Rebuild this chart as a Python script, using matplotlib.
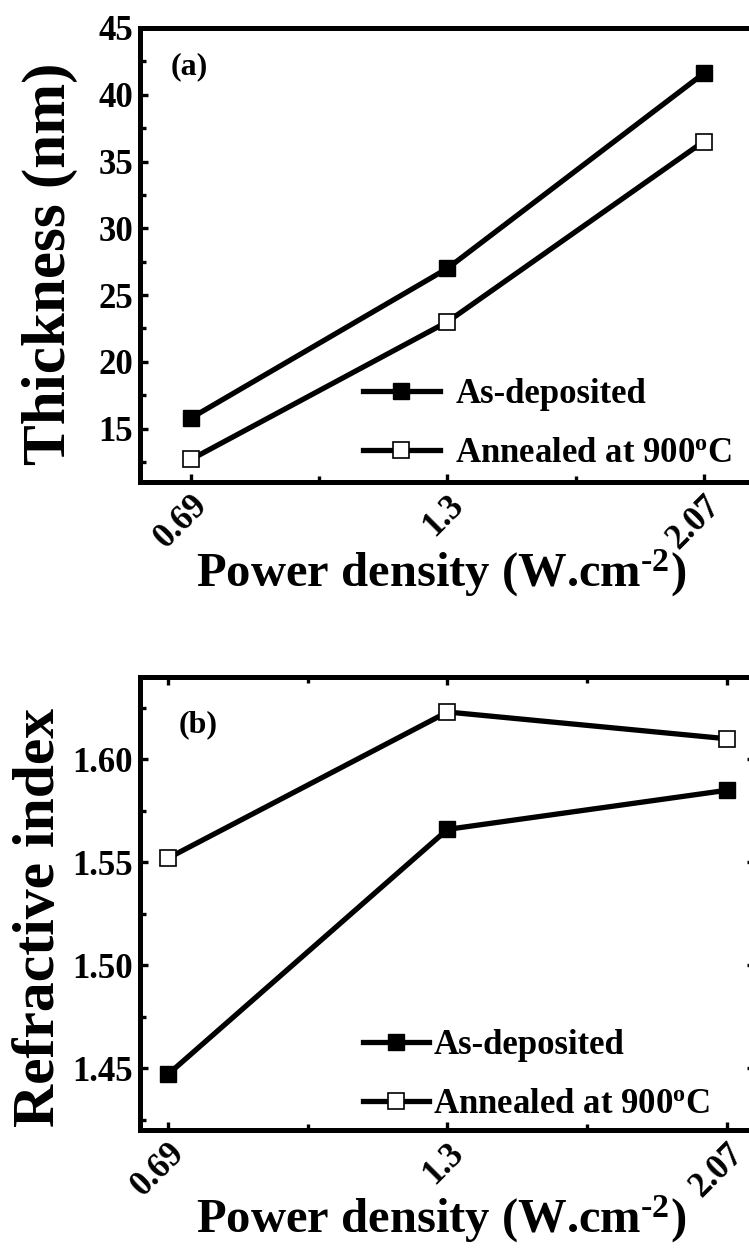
import matplotlib
matplotlib.use("Agg")
import matplotlib.pyplot as plt
from matplotlib.ticker import MultipleLocator, FixedLocator, FormatStrFormatter

# ---- data ----
power_labels = ["0.69", "1.3", "2.07"]
thick_as_dep = [15.8, 27.0, 41.6]
thick_annealed = [12.7, 23.0, 36.5]
n_as_dep = [1.447, 1.566, 1.585]
n_annealed = [1.552, 1.623, 1.610]
series_labels = ["As-deposited", r"Annealed at 900$^{\mathbf{o}}$C"]
ylabel_a = "Thickness (nm)"
ylabel_b = "Refractive index"
xlabel = r"Power density (W.cm$^{\text{-2}}$)"

plt.rcParams["font.family"] = ["Liberation Serif", "DejaVu Serif"]
plt.rcParams["font.weight"] = "bold"
plt.rcParams["mathtext.fontset"] = "custom"
plt.rcParams["mathtext.rm"] = "Liberation Serif:bold"
plt.rcParams["mathtext.bf"] = "Liberation Serif:bold"
plt.rcParams["mathtext.it"] = "Liberation Serif:bold"
plt.rcParams["mathtext.default"] = "bf"

W, H = 749, 1250
fig = plt.figure(figsize=(W / 100, H / 100), dpi=100)
fig.patch.set_facecolor("white")

def axes_px(left, top, right, bottom):
    return fig.add_axes([left / W, 1 - bottom / H, (right - left) / W, (bottom - top) / H])

ax1 = axes_px(140, 28, 755, 482)
ax2 = axes_px(140, 677, 755, 1130)

xs = list(range(len(power_labels)))

line_kw = dict(color="black", lw=3.8, markersize=12, marker="s")
TICK_FS = 25

def style(ax, top_right):
    for s in ax.spines.values():
        s.set_linewidth(3.6)
    ax.set_xticks(xs)
    ax.set_xticklabels(power_labels, rotation=45, ha="right", va="top",
                       rotation_mode="anchor", fontsize=TICK_FS, fontweight="bold")
    ax.xaxis.set_minor_locator(FixedLocator([x + 0.5 for x in xs[:-1]] + [xs[0] - 0.5]))
    ax.tick_params(which="both", direction="in", width=2.4,
                   top=top_right, right=top_right, labelsize=TICK_FS, pad=5)
    ax.tick_params(which="major", length=6)
    ax.tick_params(which="minor", length=4)
    for t in ax.get_yticklabels():
        t.set_fontweight("bold")

# ---- panel (a) ----
ax1.plot(xs, thick_as_dep, markerfacecolor="black", markeredgecolor="black",
         label=series_labels[0], **line_kw)
ax1.plot(xs, thick_annealed, markerfacecolor="white", markeredgecolor="black",
         markeredgewidth=1.2, label=series_labels[1], **line_kw)
ax1.set_xlim(-0.2, 2.2)
ax1.set_ylim(11, 45)
ax1.yaxis.set_major_locator(MultipleLocator(5))
ax1.yaxis.set_minor_locator(MultipleLocator(2.5))
style(ax1, False)
ax1.set_ylabel(ylabel_a, fontsize=44, fontweight="bold")
ax1.yaxis.set_label_coords(-0.1, 0.48)
ax1.set_xlabel(xlabel, fontsize=35, fontweight="bold")
ax1.xaxis.set_label_coords(0.49, -0.145)
ax1.text(0.049, 0.914, "(a)", transform=ax1.transAxes, fontsize=23,
         fontweight="bold", va="center", ha="left")
ax1.legend(loc="center left", bbox_to_anchor=(0.363, 0.128), frameon=False,
           prop={"size": 25, "weight": "bold"}, handlelength=2.2,
           handletextpad=0.45, labelspacing=0.75, borderpad=0, borderaxespad=0)

# ---- panel (b) ----
ax2.plot(xs, n_as_dep, markerfacecolor="black", markeredgecolor="black",
         label=series_labels[0], **line_kw)
ax2.plot(xs, n_annealed, markerfacecolor="white", markeredgecolor="black",
         markeredgewidth=1.2, label=series_labels[1], **line_kw)
ax2.set_xlim(-0.1, 2.1)
ax2.set_ylim(1.42, 1.64)
ax2.yaxis.set_major_locator(MultipleLocator(0.05))
ax2.yaxis.set_minor_locator(MultipleLocator(0.025))
ax2.yaxis.set_major_formatter(FormatStrFormatter("%.2f"))
style(ax2, True)
ax2.set_ylabel(ylabel_b, fontsize=43, fontweight="bold")
ax2.yaxis.set_label_coords(-0.118, 0.47)
ax2.set_xlabel(xlabel, fontsize=35, fontweight="bold")
ax2.xaxis.set_label_coords(0.49, -0.14)
ax2.text(0.063, 0.894, "(b)", transform=ax2.transAxes, fontsize=23,
         fontweight="bold", va="center", ha="left")
ax2.legend(loc="center left", bbox_to_anchor=(0.363, 0.122), frameon=False,
           prop={"size": 25, "weight": "bold"}, handlelength=1.9,
           handletextpad=0.12, labelspacing=0.75, borderpad=0, borderaxespad=0)

fig.savefig("out.png", dpi=100, facecolor="white")
